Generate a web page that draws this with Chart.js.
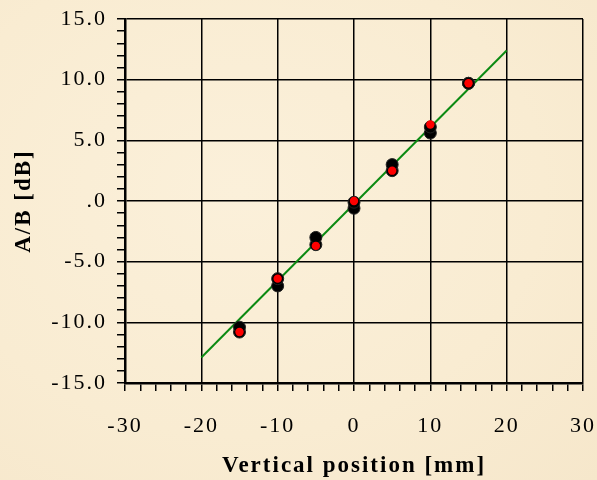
<!DOCTYPE html>
<html>
<head>
<meta charset="utf-8">
<script src="https://cdn.jsdelivr.net/npm/chart.js@4"></script>
<style>
  html, body { margin: 0; padding: 0; }
  body {
    width: 597px; height: 480px;
    background: radial-gradient(ellipse at 40% 40%, #fbf0da 0%, #f9ecd2 60%, #f6e7cb 100%);
  }
  #wrap { position: relative; width: 597px; height: 480px; }
</style>
</head>
<body>
<div id="wrap"><canvas id="chart" width="597" height="480"></canvas></div>
<script>
// posities (mm) en gemeten waarden (dB)
const posX = [-15, -10, -5, 0, 5, 10, 15];
const blackA = [-10.4, -6.4, -3.0, -0.1, 3.0, 6.1, 9.7];
const blackB = [-10.8, -7.0, -3.6, -0.6, 2.5, 5.6, 9.7];
const redVals = [-10.8, -6.4, -3.7, 0.0, 2.5, 6.3, 9.7];

// fitlijn
const lineX = [-20, 20];
const lineY = [-12.9, 12.4];

// as-labels
const yMajor = [-15, -10, -5, 0, 5, 10, 15];
const xMajor = [-30, -20, -10, 0, 10, 20, 30];

function toPoints(xs, ys) {
    return xs.map((x, i) => ({ x: x, y: ys[i] }));
}

function yLabel(v) {
    if (v === 0) return ".0";
    return v.toFixed(1);
}

const serif = "'Liberation Serif', 'Times New Roman', serif";

// letterafstand zoals in het origineel (canvas reset dit soms, dus vaker zetten)
function setSpacing(chart) {
    chart.ctx.letterSpacing = '2px';
}
const spacingPlugin = {
    id: 'spacing',
    beforeUpdate: setSpacing,
    beforeLayout: setSpacing,
    beforeDraw: setSpacing
};

new Chart(document.getElementById('chart'), {
    type: 'scatter',
    data: {
        datasets: [
            {
                type: 'line',
                data: toPoints(lineX, lineY),
                borderColor: '#0b8a12',
                borderWidth: 2,
                pointRadius: 0,
                fill: false,
                order: 3
            },
            {
                data: toPoints(posX, blackA),
                backgroundColor: '#000',
                borderColor: '#222',
                borderWidth: 1,
                pointRadius: 6,
                order: 2
            },
            {
                data: toPoints(posX, blackB),
                backgroundColor: '#000',
                borderColor: '#222',
                borderWidth: 1,
                pointRadius: 6,
                order: 2
            },
            {
                data: toPoints(posX, redVals),
                backgroundColor: '#ff0000',
                borderWidth: 0,
                pointRadius: 4.2,
                order: 1
            }
        ]
    },
    options: {
        responsive: false,
        animation: false,
        layout: { padding: { left: 0, right: 14, top: 19, bottom: 0 } },
        plugins: {
            legend: { display: false },
            tooltip: { enabled: false }
        },
        scales: {
            x: {
                type: 'linear',
                min: -30,
                max: 30,
                afterFit: s => {
                    s.height = 97;
                    s.paddingLeft = 0;
                    s.paddingRight = 0;
                },
                ticks: {
                    stepSize: 2,
                    autoSkip: false,
                    maxRotation: 0,
                    padding: 22,
                    color: '#000',
                    font: { family: serif, size: 22 },
                    callback: v => xMajor.includes(v) ? String(v) : ''
                },
                grid: {
                    color: c => (c.tick && xMajor.includes(c.tick.value)) ? '#000' : 'rgba(0,0,0,0)',
                    tickColor: '#000',
                    tickLength: 8,
                    lineWidth: 1.5,
                    tickWidth: 1.5
                },
                border: { color: '#000', width: 2.5 },
                title: {
                    display: true,
                    text: 'Vertical position [mm]',
                    color: '#000',
                    font: { family: serif, size: 23, weight: 'bold' },
                    padding: { top: 6, bottom: 0 }
                }
            },
            y: {
                type: 'linear',
                min: -15,
                max: 15,
                afterFit: s => {
                    s.width = 125;
                    s.paddingTop = 0;
                    s.paddingBottom = 0;
                },
                ticks: {
                    stepSize: 1,
                    autoSkip: false,
                    padding: 10,
                    color: '#000',
                    font: { family: serif, size: 22 },
                    callback: v => yMajor.includes(v) ? yLabel(v) : ''
                },
                grid: {
                    color: c => (c.tick && yMajor.includes(c.tick.value)) ? '#000' : 'rgba(0,0,0,0)',
                    tickColor: '#000',
                    tickLength: 8,
                    lineWidth: 1.5,
                    tickWidth: 1.5
                },
                border: { color: '#000', width: 2.5 },
                title: {
                    display: true,
                    text: 'A/B [dB]',
                    color: '#000',
                    font: { family: serif, size: 23, weight: 'bold' },
                    padding: { top: 10, bottom: 14 }
                }
            }
        }
    },
    plugins: [spacingPlugin]
});
</script>
</body>
</html>
